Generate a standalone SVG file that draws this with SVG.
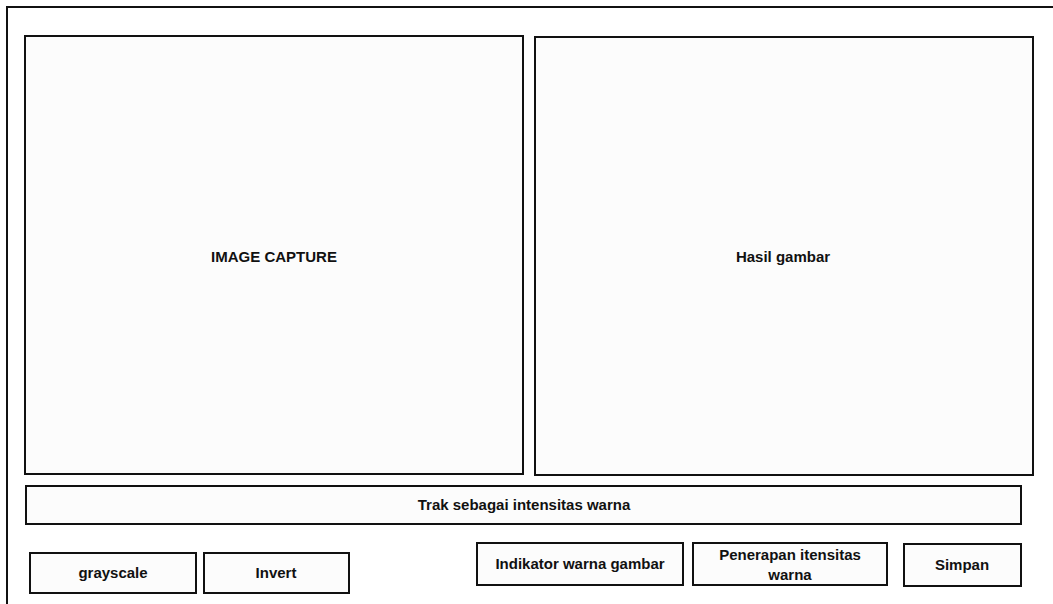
<svg xmlns="http://www.w3.org/2000/svg" width="1053" height="604" viewBox="0 0 1053 604">
<style>
.box{fill:#fcfcfc;stroke:#111;stroke-width:2}
.frame{fill:none;stroke:#111;stroke-width:2}
text{font-family:"Liberation Sans",Arial,sans-serif;font-size:15px;font-weight:bold;fill:#111;text-anchor:middle}
</style>
<rect width="1053" height="604" fill="#fff"/>
<g id="frame"><path class="frame" d="M7,604 V7 H1053"/></g>
<g id="image-capture"><rect class="box" x="25" y="36" width="498" height="438"/><text x="274" y="262">IMAGE CAPTURE</text></g>
<g id="hasil-gambar"><rect class="box" x="535" y="37" width="498" height="438"/><text x="783" y="262">Hasil gambar</text></g>
<g id="trak"><rect class="box" x="26" y="486" width="995" height="38"/><text x="524" y="510">Trak sebagai intensitas warna</text></g>
<g id="grayscale"><rect class="box" x="30" y="553" width="166" height="40"/><text x="113" y="578">grayscale</text></g>
<g id="invert"><rect class="box" x="204" y="553" width="145" height="40"/><text x="276" y="578">Invert</text></g>
<g id="indikator"><rect class="box" x="477" y="543" width="206" height="42"/><text x="580" y="569">Indikator warna gambar</text></g>
<g id="penerapan"><rect class="box" x="693" y="543" width="194" height="42"/><text x="790" y="560">Penerapan itensitas</text><text x="790" y="580">warna</text></g>
<g id="simpan"><rect class="box" x="904" y="544" width="117" height="42"/><text x="962" y="570">Simpan</text></g>
<g id="connectors"></g>
</svg>
